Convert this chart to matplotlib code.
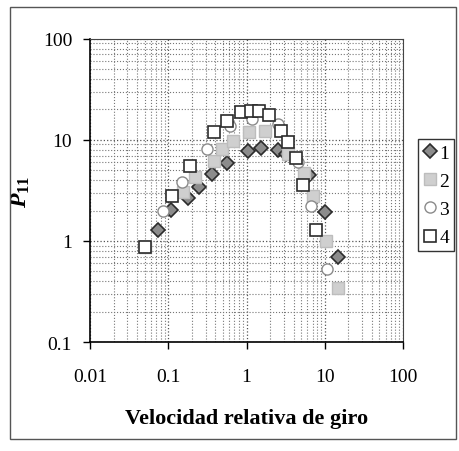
import numpy as np
import matplotlib
matplotlib.use('Agg')
import matplotlib.pyplot as plt
from matplotlib.patches import Rectangle
from matplotlib.ticker import LogLocator, NullFormatter, FixedLocator

plt.rcParams['font.family'] = ['Liberation Serif', 'DejaVu Serif']
plt.rcParams['mathtext.fontset'] = 'custom'
plt.rcParams['mathtext.it'] = 'Liberation Serif:bold:italic'
plt.rcParams['mathtext.rm'] = 'Liberation Serif:bold'

# serie 1 (rombos)
x1 = [0.074, 0.109, 0.18, 0.243, 0.366, 0.555, 1.03, 1.51, 2.5, 3.16, 6.2, 10.0, 14.7]
y1 = [1.29, 2.03, 2.67, 3.43, 4.6, 5.9, 7.8, 8.3, 8.0, 7.3, 4.5, 1.94, 0.69]
# serie 2 (cuadrados grises)
x2 = [0.051, 0.156, 0.222, 0.378, 0.49, 0.68, 1.06, 1.7, 3.4, 5.5, 7.0, 10.3, 14.7]
y2 = [0.87, 3.06, 4.3, 6.2, 8.1, 9.8, 12.0, 12.3, 7.3, 4.7, 2.8, 1.0, 0.34]
# serie 3 (circulos)
x3 = [0.086, 0.15, 0.316, 0.62, 1.19, 2.5, 4.5, 6.6, 10.6]
y3 = [1.98, 3.84, 8.1, 13.8, 16.1, 14.5, 6.05, 2.2, 0.53]
# serie 4 (cuadrados blancos)
x4 = [0.051, 0.112, 0.19, 0.378, 0.57, 0.84, 1.13, 1.43, 1.91, 2.73, 3.36, 4.25, 5.2, 7.7]
y4 = [0.87, 2.79, 5.5, 12.0, 15.4, 18.9, 19.5, 19.4, 17.7, 12.3, 9.6, 6.6, 3.6, 1.29]

labels = ['1', '2', '3', '4']

fig = plt.figure(figsize=(4.6, 4.52), dpi=100)
ax = fig.add_axes([0.196, 0.241, 0.68, 0.671])

ax.plot(x1, y1, 'D', ms=7, mfc='#8c8c8c', mec='#2b2b2b', mew=1.2, ls='none', label=labels[0])
ax.plot(x2, y2, 's', ms=8, mfc='#cfcfcf', mec='#bdbdbd', mew=1.0, ls='none', label=labels[1])
ax.plot(x3, y3, 'o', ms=8, mfc='white', mec='#8a8a8a', mew=1.0, ls='none', label=labels[2])
ax.plot(x4, y4, 's', ms=8.5, mfc='white', mec='#2b2b2b', mew=1.2, ls='none', label=labels[3])

ax.set_xscale('log')
ax.set_yscale('log')
ax.set_xlim(0.01, 100)
ax.set_ylim(0.1, 100)

ax.xaxis.set_major_locator(FixedLocator([0.01, 0.1, 1, 10, 100]))
ax.yaxis.set_major_locator(FixedLocator([0.1, 1, 10, 100]))
ax.set_xticklabels(['0.01', '0.1', '1', '10', '100'])
ax.set_yticklabels(['0.1', '1', '10', '100'])
ax.xaxis.set_minor_locator(LogLocator(base=10, subs=np.arange(2, 10), numticks=20))
ax.yaxis.set_minor_locator(LogLocator(base=10, subs=np.arange(2, 10), numticks=20))
ax.xaxis.set_minor_formatter(NullFormatter())
ax.yaxis.set_minor_formatter(NullFormatter())

ax.grid(True, which='major', ls=':', color='#555555', lw=0.9)
ax.grid(True, which='minor', ls=':', color='#777777', lw=0.8)
ax.set_axisbelow(True)

ax.tick_params(which='major', direction='out', length=5, width=1, labelsize=14, pad=8)
ax.tick_params(which='minor', length=0)
ax.tick_params(axis='x', pad=14)

for s in ['left', 'bottom']:
    ax.spines[s].set_linewidth(1.2)
for s in ['top', 'right']:
    ax.spines[s].set_linewidth(0.8)
    ax.spines[s].set_color('#444444')

ax.set_xlabel('Velocidad relativa de giro', fontsize=16, fontweight='bold', labelpad=16)
ax.set_ylabel(r'$P_{11}$', fontsize=17, labelpad=8)

leg = fig.legend(loc='center left', bbox_to_anchor=(0.909, 0.566), frameon=True,
                 fancybox=False, edgecolor='black', fontsize=14, handletextpad=0.15,
                 handlelength=0.7, labelspacing=0.55, borderpad=0.25, borderaxespad=0)
leg.get_frame().set_linewidth(1.0)

fig.patches.append(Rectangle((0.022, 0.027), 0.970, 0.956, transform=fig.transFigure,
                             fill=False, edgecolor='#555555', lw=1.0))

fig.savefig('out.png', dpi=100)
